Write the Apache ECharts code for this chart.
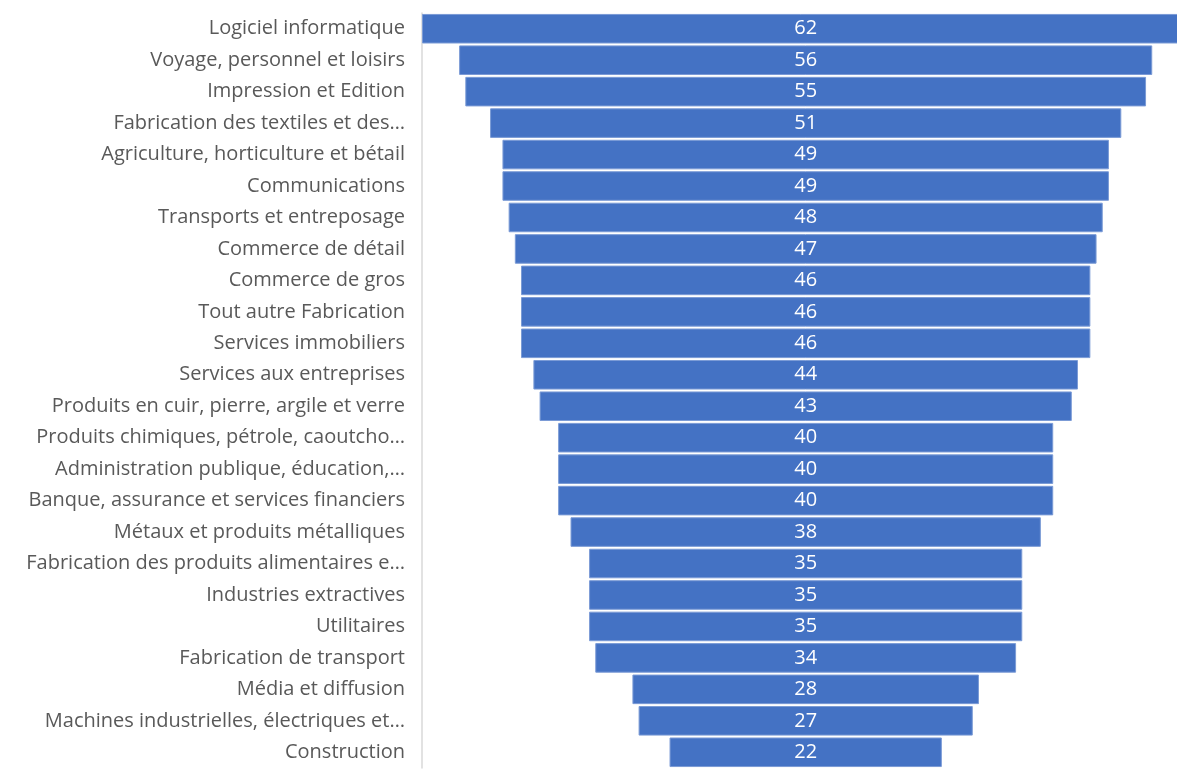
<!DOCTYPE html>
<html><head><meta charset="utf-8">
<script src="https://cdn.jsdelivr.net/npm/echarts@6/dist/echarts.min.js"></script>
<style>html,body{margin:0;padding:0;background:#fff}#c{width:1177px;height:776px}</style>
</head><body><div id="c"></div>
<script>
const categories = [
  "Logiciel informatique",
  "Voyage, personnel et loisirs",
  "Impression et Edition",
  "Fabrication des textiles et des…",
  "Agriculture, horticulture et bétail",
  "Communications",
  "Transports et entreposage",
  "Commerce de détail",
  "Commerce de gros",
  "Tout autre Fabrication",
  "Services immobiliers",
  "Services aux entreprises",
  "Produits en cuir, pierre, argile et verre",
  "Produits chimiques, pétrole, caoutcho…",
  "Administration publique, éducation,…",
  "Banque, assurance et services financiers",
  "Métaux et produits métalliques",
  "Fabrication des produits alimentaires e…",
  "Industries extractives",
  "Utilitaires",
  "Fabrication de transport",
  "Média et diffusion",
  "Machines industrielles, électriques et…",
  "Construction"
];
const values = [62,56,55,51,49,49,48,47,46,46,46,44,43,40,40,40,38,35,35,35,34,28,27,22];
const centre = 31;
const offsets = values.map(v => centre - v / 2);

const chart = echarts.init(document.getElementById('c'), null, {renderer: 'canvas'});
const font = '"Open Sans", Lato, sans-serif';
chart.setOption({
  animation: false,
  grid: {left: 422, width: 755, top: 13, bottom: 8, containLabel: false},
  xAxis: {type: 'value', min: 0, max: 61, show: false},
  yAxis: {
    type: 'category', data: categories, inverse: true,
    axisLine: {show: true, lineStyle: {color: '#d9d9d9', width: 1.5}},
    axisTick: {show: false},
    axisLabel: {color: '#595959', fontSize: 20, fontFamily: font, margin: 17, padding: [4, 0, 0, 0]}
  },
  series: [
    {type: 'bar', stack: 's', data: offsets, clip: false, itemStyle: {color: 'transparent'}, barCategoryGap: '6%', silent: true},
    {type: 'bar', stack: 's', data: values, clip: false, barCategoryGap: '6%',
     itemStyle: {color: '#4472C4', borderColor: '#7b9bd6', borderWidth: 1},
     label: {show: true, position: 'inside', color: '#ffffff', fontSize: 20, fontFamily: font, padding: [4, 0, 0, 0]}}
  ]
});
</script></body></html>
